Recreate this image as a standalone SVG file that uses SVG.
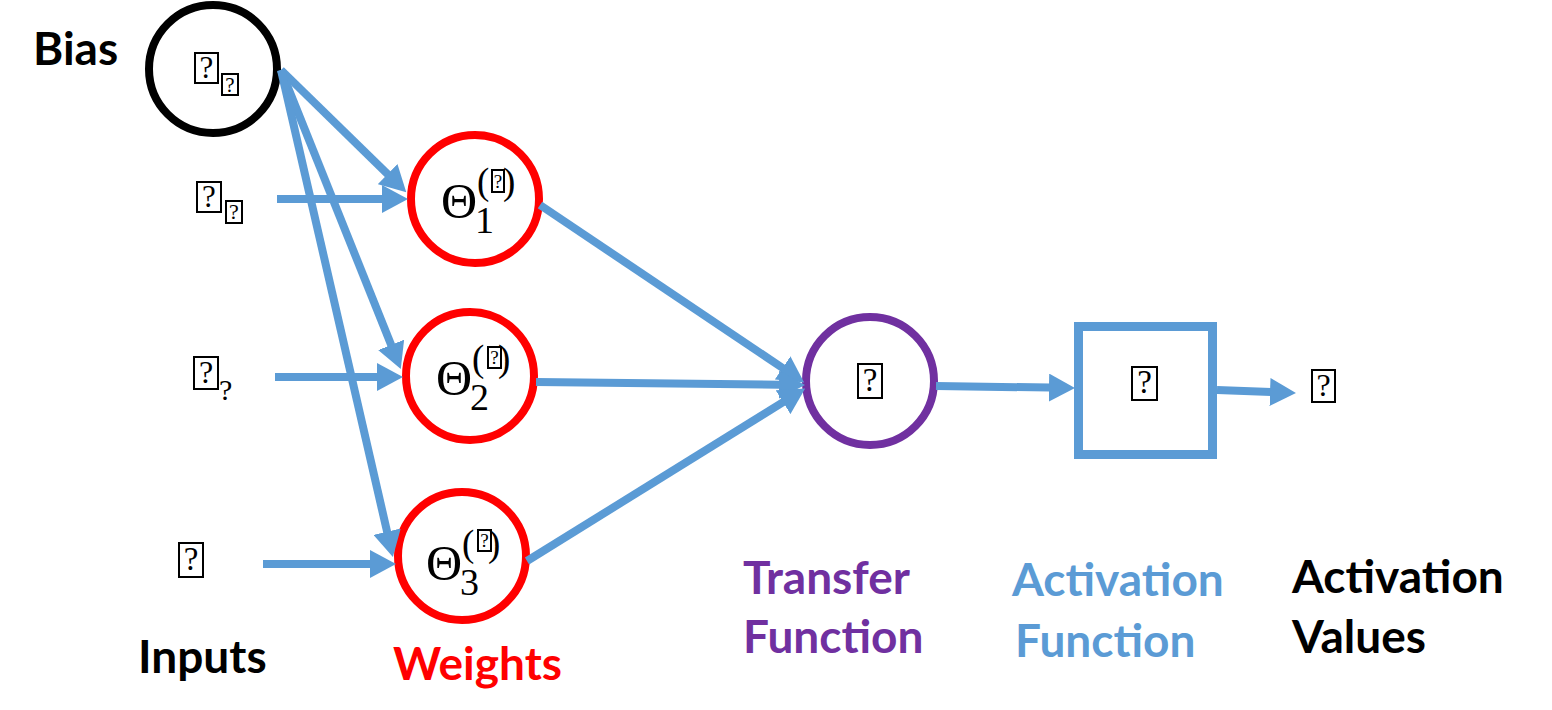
<svg xmlns="http://www.w3.org/2000/svg" width="1552" height="710" viewBox="0 0 1552 710">
<style>
.lbl{font-family:Lato,"Liberation Sans",sans-serif;font-weight:bold;font-size:46px}
.math{font-family:"Liberation Serif","DejaVu Serif",serif;fill:#000}
.q{font-family:"Liberation Serif","DejaVu Serif",serif;fill:#000;text-anchor:middle}
.tofu{fill:none;stroke:#000;stroke-width:2}
.node{fill:#fff;stroke-width:8}
.conn{stroke:#5B9BD5;stroke-width:8;fill:none}
</style>
<defs>
<marker id="ah" markerUnits="userSpaceOnUse" viewBox="0 -14 26 28" markerWidth="26" markerHeight="28" refX="1" refY="0" orient="auto">
<path d="M0,-14 L26,0 L0,14 Z" fill="#5B9BD5"/>
</marker>
</defs>
<rect width="1552" height="710" fill="#fff"/>

<g id="bias">
<circle class="node" cx="213" cy="69" r="64" stroke="#000"/>
<rect class="tofu" x="195" y="53" width="23" height="30"/>
<text class="q" x="206.5" y="78" font-size="31">?</text>
<rect class="tofu" x="222" y="74" width="16" height="21"/>
<text class="q" x="230" y="92" font-size="21">?</text>
</g>
<text id="bias-label" class="lbl" x="33" y="65" fill="#000">Bias</text>

<g id="input1">
<rect class="tofu" x="197" y="182" width="24" height="30"/>
<text class="q" x="209" y="207" font-size="31">?</text>
<rect class="tofu" x="226" y="201" width="16" height="22"/>
<text class="q" x="234" y="219" font-size="22">?</text>
</g>
<g id="input2">
<rect class="tofu" x="194" y="357" width="24" height="32"/>
<text class="q" x="206" y="383" font-size="32">?</text>
<text class="math" x="219" y="400" font-size="30">?</text>
</g>
<g id="input3">
<rect class="tofu" x="179" y="543" width="24" height="34"/>
<text class="q" x="191" y="570" font-size="33">?</text>
</g>
<text id="inputs-label" class="lbl" x="138" y="673" fill="#000">Inputs</text>

<g id="weight1">
<circle class="node" cx="475" cy="199" r="64" stroke="#FF0000"/>
<text class="math" x="441" y="218" font-size="50">Θ</text>
<text class="math" x="475" y="233" font-size="38">1</text>
<text class="math" x="477" y="194" font-size="37">(</text>
<rect class="tofu" x="492" y="170" width="12" height="22"/>
<text class="q" x="498" y="188" font-size="19">?</text>
<text class="math" x="503" y="194" font-size="37">)</text>
</g>
<g id="weight2">
<circle class="node" cx="470" cy="376" r="64" stroke="#FF0000"/>
<text class="math" x="436" y="395" font-size="50">Θ</text>
<text class="math" x="470" y="410" font-size="38">2</text>
<text class="math" x="472" y="371" font-size="37">(</text>
<rect class="tofu" x="488" y="347" width="13" height="21"/>
<text class="q" x="494.5" y="364" font-size="19">?</text>
<text class="math" x="498" y="371" font-size="37">)</text>
</g>
<g id="weight3">
<circle class="node" cx="462" cy="556" r="64" stroke="#FF0000"/>
<text class="math" x="426" y="580" font-size="50">Θ</text>
<text class="math" x="460" y="595" font-size="38">3</text>
<text class="math" x="462" y="556" font-size="37">(</text>
<rect class="tofu" x="478" y="530" width="13" height="21"/>
<text class="q" x="484.5" y="547" font-size="19">?</text>
<text class="math" x="488" y="556" font-size="37">)</text>
</g>
<text id="weights-label" class="lbl" x="393" y="680" fill="#FF0000">Weights</text>

<g id="transfer">
<circle class="node" cx="870" cy="381" r="64" stroke="#7030A0"/>
<rect class="tofu" x="858" y="364" width="24" height="34"/>
<text class="q" x="870" y="391" font-size="33">?</text>
</g>
<text id="transfer-label" class="lbl" fill="#7030A0"><tspan x="743" y="594">Transfer</tspan><tspan x="743" y="653">Function</tspan></text>

<g id="activation">
<rect x="1078.5" y="326.5" width="134" height="128" fill="#fff" stroke="#5B9BD5" stroke-width="9"/>
<rect class="tofu" x="1132" y="367" width="25" height="33"/>
<text class="q" x="1144.5" y="393" font-size="33">?</text>
</g>
<text id="activation-label" class="lbl" fill="#5B9BD5"><tspan x="1012" y="596">Activation</tspan><tspan x="1015" y="657">Function</tspan></text>

<g id="output">
<rect class="tofu" x="1312" y="370" width="23" height="32"/>
<text class="q" x="1323.5" y="396" font-size="32">?</text>
</g>
<text id="values-label" class="lbl" fill="#000"><tspan x="1292" y="593">Activation</tspan><tspan x="1292" y="653">Values</tspan></text>

<g id="connectors" class="conn" marker-end="url(#ah)">
<line x1="281" y1="70" x2="388.4" y2="174.8"/>
<line x1="281" y1="70" x2="391.5" y2="345.8"/>
<line x1="281" y1="70" x2="387.3" y2="532.6"/>
<line x1="277" y1="199" x2="383" y2="199"/>
<line x1="275" y1="377" x2="378" y2="377"/>
<line x1="263" y1="564" x2="371" y2="564"/>
<line x1="540" y1="205" x2="783.4" y2="368.5"/>
<line x1="536" y1="382" x2="780" y2="384.7"/>
<line x1="527" y1="561" x2="783.9" y2="401.7"/>
<line x1="936" y1="386" x2="1050" y2="387.6"/>
<line x1="1217" y1="390" x2="1271" y2="392"/>
</g>
</svg>
